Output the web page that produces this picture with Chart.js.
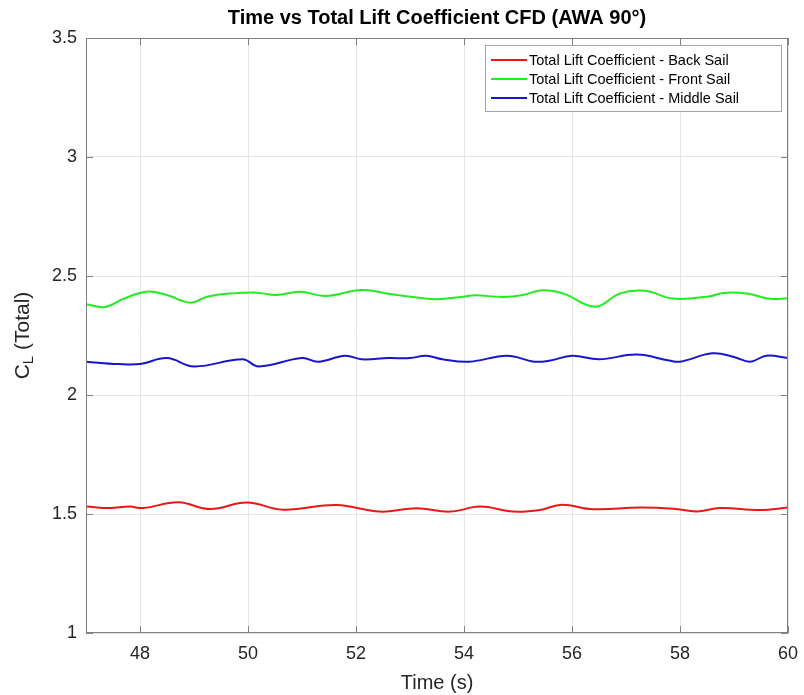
<!DOCTYPE html>
<html>
<head>
<meta charset="utf-8">
<script src="https://cdn.jsdelivr.net/npm/chart.js@4"></script>
<style>
  html, body { margin: 0; padding: 0; background: #fff; }
  #wrap { width: 804px; height: 695px; }
</style>
</head>
<body>
<div id="wrap"><canvas id="liftChart" width="804" height="695"></canvas></div>
<script>
// valores
const backTime = [47.0, 47.44, 47.81, 48.06, 48.71, 49.3, 49.98, 50.65, 51.64, 52.44, 53.12, 53.74, 54.3, 54.91, 55.41, 55.81, 56.39, 57.26, 57.88, 58.31, 58.74, 59.48, 60.0];
const backCl = [1.532, 1.525, 1.531, 1.525, 1.549, 1.521, 1.548, 1.518, 1.538, 1.51, 1.524, 1.51, 1.531, 1.51, 1.517, 1.539, 1.52, 1.527, 1.522, 1.511, 1.525, 1.517, 1.527];

const frontTime = [47.0, 47.35, 47.7, 48.12, 48.5, 48.93, 49.24, 49.72, 50.16, 50.53, 50.96, 51.43, 52.11, 52.63, 53.12, 53.49, 53.98, 54.2, 54.72, 55.09, 55.44, 55.83, 56.43, 56.89, 57.35, 57.87, 58.56, 58.8, 59.24, 59.67, 60.0];
const frontCl = [2.381, 2.37, 2.405, 2.434, 2.42, 2.388, 2.413, 2.427, 2.43, 2.42, 2.434, 2.416, 2.441, 2.424, 2.41, 2.402, 2.413, 2.419, 2.412, 2.42, 2.44, 2.427, 2.371, 2.427, 2.438, 2.405, 2.415, 2.429, 2.426, 2.404, 2.406];

const middleTime = [47.0, 47.6, 48.0, 48.5, 49.0, 49.9, 50.2, 51.0, 51.3, 51.8, 52.1, 52.6, 53.0, 53.3, 53.6, 54.1, 54.8, 55.3, 55.6, 56.0, 56.5, 57.2, 57.8, 58.0, 58.6, 59.0, 59.3, 59.6, 60.0];
const middleCl = [2.14, 2.13, 2.13, 2.155, 2.12, 2.15, 2.12, 2.155, 2.14, 2.165, 2.15, 2.155, 2.155, 2.165, 2.15, 2.14, 2.165, 2.14, 2.145, 2.165, 2.15, 2.17, 2.145, 2.14, 2.175, 2.16, 2.14, 2.165, 2.155];

const xTicks = [48, 50, 52, 54, 56, 58, 60];
const yTicks = [1, 1.5, 2, 2.5, 3, 3.5];

const seriesLabels = [
    'Total Lift Coefficient - Back Sail',
    'Total Lift Coefficient - Front Sail',
    'Total Lift Coefficient - Middle Sail'
];
const seriesColors = ['rgb(236,22,22)', 'rgb(34,236,34)', 'rgb(22,22,204)'];

function pares(xs, ys) {
    return xs.map((x, i) => ({ x: x, y: ys[i] }));
}

const FONTE = '"Liberation Sans", Arial, Helvetica, sans-serif';

// caixa, marcas de escala para dentro, título do eixo y e legenda
const extras = {
    id: 'extras',
    afterDraw(chart) {
        const ctx = chart.ctx;
        const a = chart.chartArea;
        const xs = chart.scales.x, ys = chart.scales.y;
        ctx.save();
        ctx.strokeStyle = '#808080';
        ctx.lineWidth = 1;
        ctx.strokeRect(a.left + 0.5, a.top + 0.5, a.right - a.left - 1, a.bottom - a.top - 1);
        ctx.beginPath();
        xTicks.forEach(t => {
            const px = Math.round(xs.getPixelForValue(t)) + 0.5;
            ctx.moveTo(px, a.bottom); ctx.lineTo(px, a.bottom - 7);
            ctx.moveTo(px, a.top); ctx.lineTo(px, a.top + 7);
        });
        yTicks.forEach(t => {
            const py = Math.round(ys.getPixelForValue(t)) + 0.5;
            ctx.moveTo(a.left, py); ctx.lineTo(a.left + 7, py);
            ctx.moveTo(a.right, py); ctx.lineTo(a.right - 7, py);
        });
        ctx.stroke();

        // título do eixo y com subscrito
        ctx.translate(23, (a.top + a.bottom) / 2);
        ctx.rotate(-Math.PI / 2);
        ctx.fillStyle = '#262626';
        ctx.textBaseline = 'middle';
        ctx.font = '21px ' + FONTE;
        const wC = ctx.measureText('C').width;
        ctx.font = '15px ' + FONTE;
        const wL = ctx.measureText('L').width;
        ctx.font = '21px ' + FONTE;
        const wR = ctx.measureText(' (Total)').width;
        let x0 = -(wC + wL + wR) / 2;
        ctx.textAlign = 'left';
        ctx.fillText('C', x0, 0);
        ctx.font = '15px ' + FONTE;
        ctx.fillText('L', x0 + wC, 6);
        ctx.font = '21px ' + FONTE;
        ctx.fillText(' (Total)', x0 + wC + wL, 0);
        ctx.restore();

        // legenda
        ctx.save();
        const bx = 485, by = 45, bw = 296, bh = 66;
        ctx.fillStyle = '#fff';
        ctx.fillRect(bx, by, bw, bh);
        ctx.strokeStyle = '#a6a6a6';
        ctx.strokeRect(bx + 0.5, by + 0.5, bw, bh);
        ctx.font = '14.5px ' + FONTE;
        ctx.textBaseline = 'middle';
        ctx.textAlign = 'left';
        chart.data.datasets.forEach((ds, i) => {
            const yy = by + 15 + i * 19;
            ctx.strokeStyle = ds.borderColor;
            ctx.lineWidth = 2;
            ctx.beginPath();
            ctx.moveTo(bx + 6, yy); ctx.lineTo(bx + 42, yy);
            ctx.stroke();
            ctx.fillStyle = '#000';
            ctx.fillText(ds.label, bx + 44, yy + 1);
        });
        ctx.restore();
    }
};

const ctx = document.getElementById('liftChart').getContext('2d');
new Chart(ctx, {
    type: 'line',
    data: {
        datasets: [
            { label: seriesLabels[0], data: pares(backTime, backCl), borderColor: seriesColors[0] },
            { label: seriesLabels[1], data: pares(frontTime, frontCl), borderColor: seriesColors[1] },
            { label: seriesLabels[2], data: pares(middleTime, middleCl), borderColor: seriesColors[2] }
        ]
    },
    options: {
        responsive: false,
        animation: false,
        parsing: false,
        layout: { padding: { left: 0, right: 16, top: 0, bottom: 0 } },
        elements: {
            point: { radius: 0 },
            line: { borderWidth: 2, tension: 0.4, fill: false }
        },
        plugins: {
            legend: { display: false },
            tooltip: { enabled: false },
            title: {
                display: true,
                fullSize: false,
                text: 'Time vs Total Lift Coefficient CFD (AWA 90°)',
                color: '#000',
                font: { family: FONTE, size: 20, weight: 'bold', lineHeight: 1.2 },
                padding: { top: 6, bottom: 8 }
            }
        },
        scales: {
            x: {
                type: 'linear',
                min: 47,
                max: 60,
                afterBuildTicks: s => { s.ticks = xTicks.map(v => ({ value: v })); },
                afterFit: s => { s.height = 62; s.paddingLeft = 0; s.paddingRight = 0; },
                grid: { color: '#e6e6e6', drawTicks: false },
                border: { display: false },
                ticks: { color: '#262626', padding: 10, font: { family: FONTE, size: 18 }, maxRotation: 0 },
                title: { display: true, text: 'Time (s)', color: '#262626', font: { family: FONTE, size: 20 }, padding: { top: 3, bottom: 0 } }
            },
            y: {
                min: 1,
                max: 3.5,
                afterBuildTicks: s => { s.ticks = yTicks.map(v => ({ value: v })); },
                afterFit: s => { s.width = 86; s.paddingTop = 0; s.paddingBottom = 0; },
                grid: { color: '#e6e6e6', drawTicks: false },
                border: { display: false },
                ticks: { color: '#262626', padding: 9, font: { family: FONTE, size: 18 }, callback: v => String(v) }
            }
        }
    },
    plugins: [extras]
});
</script>
</body>
</html>
